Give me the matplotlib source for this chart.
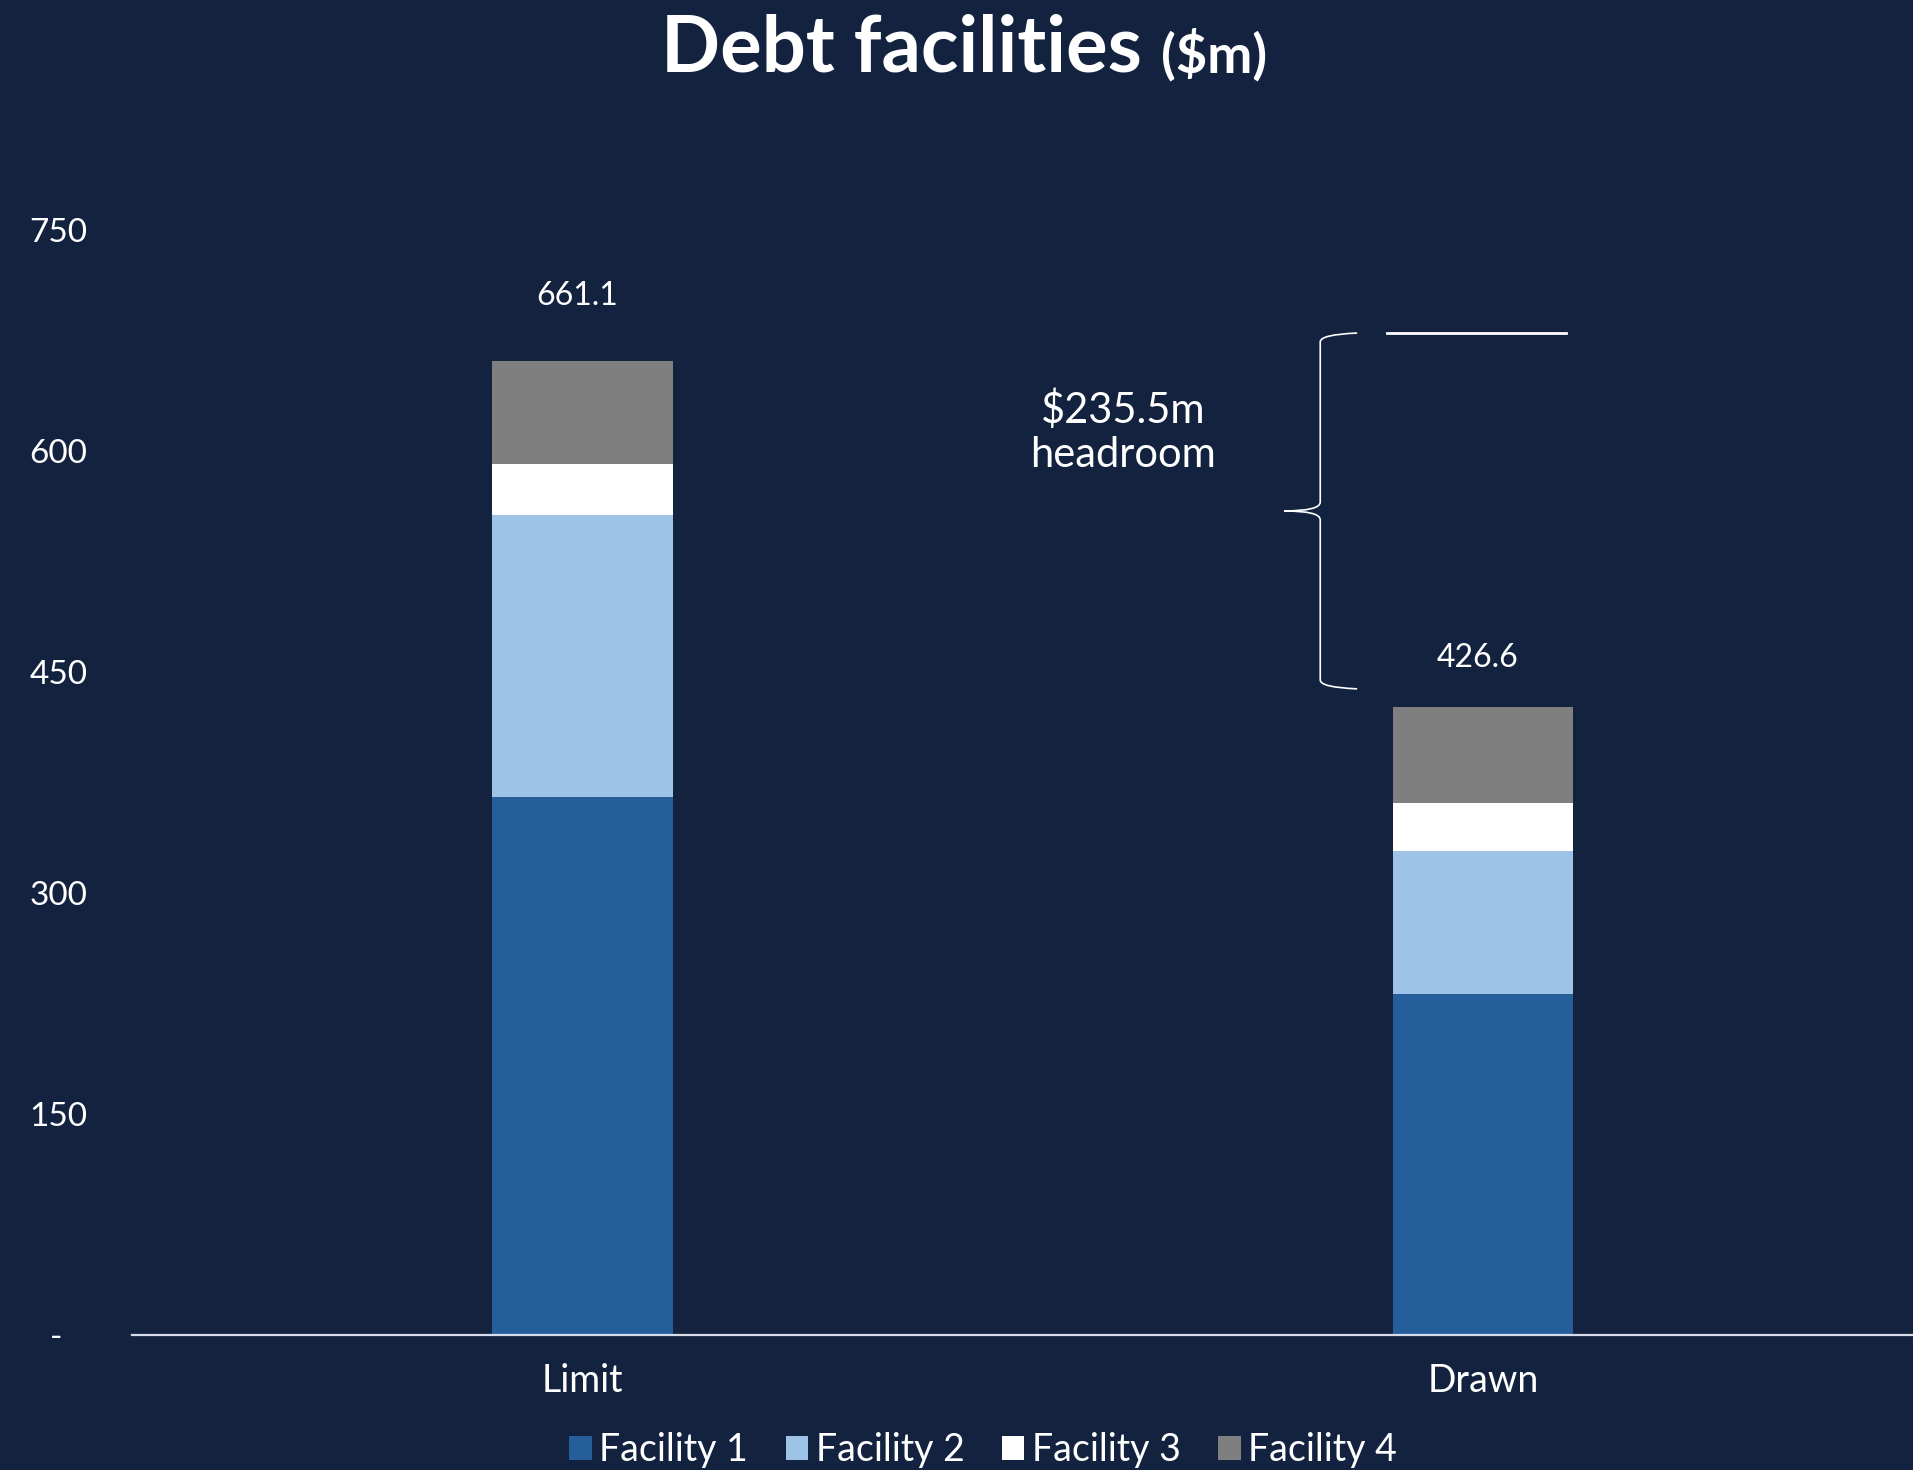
"""
Debt facilities stacked bar chart ($m): limit vs drawn, with headroom brace.
"""

import numpy as np
import matplotlib.pyplot as plt
from matplotlib.path import Path
from matplotlib.patches import PathPatch

# Data
categories = ['Limit', 'Drawn']
facility_1 = [365.5, 231.5]
facility_2 = [191.0, 97.0]
facility_3 = [34.6, 32.8]
facility_4 = [70.0, 65.3]
series_names = ['Facility 1', 'Facility 2', 'Facility 3', 'Facility 4']
totals = [661.1, 426.6]
headroom_label = '$235.5m\nheadroom'
y_ticks = [0, 150, 300, 450, 600, 750]
y_tick_labels = ['-   ', '150', '300', '450', '600', '750']

# Style
BG = '#13223F'
COLORS = ['#265E9C', '#9DC3E6', '#FFFFFF', '#7F7F7F']
TXT = '#FFFFFF'
plt.rcParams['font.family'] = ['Lato', 'DejaVu Sans']

fig = plt.figure(figsize=(19.13, 14.70), dpi=100, facecolor=BG)
ax = fig.add_axes([0.069, 0.0918, 0.931, 0.7517], facecolor=BG)

x = np.arange(len(categories))
series = [facility_1, facility_2, facility_3, facility_4]
bottom = np.zeros(len(categories))
for vals, color, name in zip(series, COLORS, series_names):
    ax.bar(x, vals, width=0.2, bottom=bottom, color=color, label=name,
           edgecolor='none', zorder=2)
    bottom += np.array(vals)

# Total labels above bars
label_offsets = [44, 33]
for xi, tot, off in zip(x, totals, label_offsets):
    ax.text(xi - 0.006, tot + off, f'{tot:.1f}', ha='center', va='center',
            color=TXT, fontsize=23)

ax.set_xlim(-0.5, 1.477)
ax.set_ylim(0, 750)
ax.set_xticks(x)
ax.set_xticklabels(categories, fontsize=27, color=TXT)
ax.set_yticks(y_ticks)
ax.set_yticklabels(y_tick_labels, fontsize=24, color=TXT)
ax.tick_params(axis='both', length=0)
ax.tick_params(axis='y', pad=32)
ax.tick_params(axis='x', pad=20)
for side in ['top', 'right', 'left']:
    ax.spines[side].set_visible(False)
ax.spines['bottom'].set_color('#D6DCE9')
ax.spines['bottom'].set_linewidth(1.6)

# Headroom brace
top = totals[0] + 19
bot = totals[1] + 12
mid = (top + bot) / 2
xv, xt, xm = 0.819, 0.86, 0.779
r = 6
verts = [
    (xt, top), (xv, top - 1), (xv, top - r),
    (xv, mid + r), (xv, mid), (xm, mid),
    (xv, mid), (xv, mid - r),
    (xv, bot + r), (xv, bot + 1), (xt, bot),
]
codes = [Path.MOVETO, Path.CURVE3, Path.CURVE3,
         Path.LINETO, Path.CURVE3, Path.CURVE3,
         Path.CURVE3, Path.CURVE3,
         Path.LINETO, Path.CURVE3, Path.CURVE3]
ax.add_patch(PathPatch(Path(verts, codes), facecolor='none', edgecolor=TXT,
                       lw=1.2, clip_on=False, zorder=3))
ax.plot([0.893, 1.092], [top, top], color=TXT, lw=2, clip_on=False)
ax.text(0.6, top - 67, headroom_label, ha='center', va='center',
        color=TXT, fontsize=30, linespacing=1.2)

# Title
fig.text(0.597, 0.966, 'Debt facilities', ha='right', va='center', color=TXT,
         fontsize=56, fontweight='bold')
fig.text(0.607, 0.963, '($m)', ha='left', va='center', color=TXT,
         fontsize=39, fontweight='bold')

# Legend
leg = fig.legend(loc='center', bbox_to_anchor=(0.514, 0.0135), ncol=4,
                 frameon=False, fontsize=27, handlelength=0.6,
                 handleheight=0.6, handletextpad=0.2, columnspacing=1.0)
for t in leg.get_texts():
    t.set_color(TXT)

fig.savefig('out.png', dpi=100, facecolor=BG)
